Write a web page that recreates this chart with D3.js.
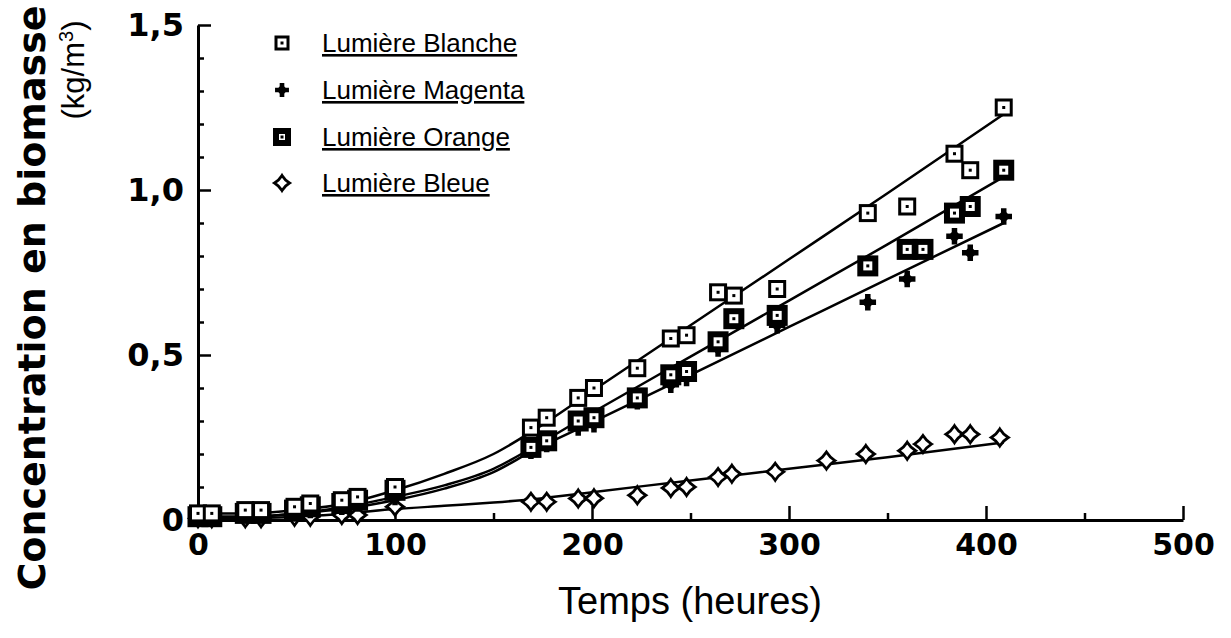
<!DOCTYPE html>
<html>
<head>
<meta charset="utf-8">
<script src="https://cdn.jsdelivr.net/npm/d3@7"></script>
<style>
  body { margin: 0; background: #fff; }
  svg { display: block; }
</style>
</head>
<body>
<div id="chart"></div>
<script>
// --- Données
const seriesNames = ["Lumière Blanche", "Lumière Magenta", "Lumière Orange", "Lumière Bleue"];

const tBlanche = [0, 7, 24, 32, 49, 57, 73, 81, 100, 169, 177, 193, 201, 223, 240, 248, 264, 272, 294, 340, 360, 384, 392, 409];
const cBlanche = [0.02, 0.02, 0.03, 0.03, 0.04, 0.05, 0.06, 0.07, 0.10, 0.28, 0.31, 0.37, 0.40, 0.46, 0.55, 0.56, 0.69, 0.68, 0.70, 0.93, 0.95, 1.11, 1.06, 1.25];

const tMagenta = [0, 7, 24, 32, 49, 57, 73, 81, 100, 169, 177, 193, 201, 223, 240, 248, 264, 294, 340, 360, 384, 392, 409];
const cMagenta = [0.01, 0.01, 0.015, 0.015, 0.02, 0.03, 0.04, 0.05, 0.07, 0.21, 0.23, 0.28, 0.29, 0.36, 0.41, 0.43, 0.52, 0.59, 0.66, 0.73, 0.86, 0.81, 0.92];

const tOrange = [0, 7, 24, 32, 49, 57, 73, 81, 100, 169, 177, 193, 201, 223, 240, 248, 264, 272, 294, 340, 360, 368, 384, 392, 409];
const cOrange = [0.01, 0.01, 0.02, 0.02, 0.03, 0.04, 0.05, 0.06, 0.09, 0.22, 0.24, 0.30, 0.31, 0.37, 0.44, 0.45, 0.54, 0.61, 0.62, 0.77, 0.82, 0.82, 0.93, 0.95, 1.06];

const tBleue = [0, 7, 24, 32, 49, 57, 73, 81, 100, 169, 177, 193, 201, 223, 240, 248, 264, 271, 293, 319, 339, 360, 368, 384, 392, 407];
const cBleue = [0.005, 0.005, 0.005, 0.005, 0.01, 0.01, 0.015, 0.015, 0.04, 0.055, 0.055, 0.065, 0.066, 0.075, 0.097, 0.10, 0.13, 0.14, 0.146, 0.18, 0.20, 0.21, 0.23, 0.26, 0.26, 0.25];

// courbes ajustées
const tFit = [0, 25, 50, 75, 100, 125, 150, 170, 200, 250, 300, 350, 409];
const fitBlanche = [0.02, 0.02, 0.03, 0.05, 0.09, 0.14, 0.20, 0.27, 0.39, 0.59, 0.79, 0.99, 1.23];
const fitOrange  = [0.01, 0.01, 0.02, 0.04, 0.07, 0.105, 0.155, 0.22, 0.325, 0.495, 0.665, 0.835, 1.04];
const fitMagenta = [0.01, 0.01, 0.02, 0.035, 0.06, 0.095, 0.145, 0.21, 0.296, 0.44, 0.585, 0.73, 0.90];
const fitBleue   = [0.005, 0.006, 0.01, 0.02, 0.033, 0.043, 0.053, 0.063, 0.084, 0.12, 0.155, 0.19, 0.235];

const xMajor = [0, 100, 200, 300, 400, 500];
const xMinor = [50, 150, 250, 350, 450];
const yMajor = [0, 0.5, 1.0, 1.5];
const yMinor = [0.1, 0.2, 0.3, 0.4, 0.6, 0.7, 0.8, 0.9, 1.1, 1.2, 1.3, 1.4];
const yLabels = ["0", "0,5", "1,0", "1,5"];

// --- Mise en page
const W = 1231, H = 638;
const svg = d3.select("#chart").append("svg").attr("width", W).attr("height", H);

const x = d3.scaleLinear().domain([0, 500]).range([198, 1183]);
const y = d3.scaleLinear().domain([0, 1.5]).range([520, 25]);

const tickFont = "'DejaVu Sans', sans-serif";

// --- Axe Y
const gy = svg.append("g").attr("transform", `translate(${x(0)},0)`);
gy.call(d3.axisLeft(y).tickValues(yMajor).tickSizeInner(-13).tickSizeOuter(0).tickPadding(14)
    .tickFormat((d, i) => yLabels[i]));
gy.append("g").call(d3.axisLeft(y).tickValues(yMinor).tickSizeInner(-6).tickSizeOuter(0).tickFormat(""))
  .select(".domain").remove();
gy.selectAll("line").attr("stroke", "#000").attr("stroke-width", 2.5);
gy.select(".domain").attr("stroke", "#000").attr("stroke-width", 3);
gy.selectAll("text").attr("font-family", tickFont).attr("font-weight", "bold")
  .attr("font-size", 32).attr("fill", "#000");

// --- Axe X
const gx = svg.append("g").attr("transform", `translate(0,${y(0)})`);
gx.call(d3.axisBottom(x).tickValues(xMajor).tickSizeInner(-14).tickSizeOuter(0).tickPadding(14));
gx.append("g").call(d3.axisBottom(x).tickValues(xMinor).tickSizeInner(-7).tickSizeOuter(0).tickFormat(""))
  .select(".domain").remove();
gx.selectAll("line").attr("stroke", "#000").attr("stroke-width", 2.5);
gx.select(".domain").attr("stroke", "#000").attr("stroke-width", 3);
gx.selectAll("text").attr("font-family", tickFont).attr("font-weight", "bold")
  .attr("font-size", 30).attr("fill", "#000");

// --- Titres des axes
svg.append("text")
  .attr("x", 690).attr("y", 614)
  .attr("text-anchor", "middle")
  .attr("font-family", "'Liberation Sans', sans-serif")
  .attr("font-size", 38)
  .text("Temps (heures)");

svg.append("text")
  .attr("transform", "translate(45,298) rotate(-90)")
  .attr("text-anchor", "middle")
  .attr("font-family", tickFont)
  .attr("font-weight", "bold")
  .attr("font-size", 38)
  .text("Concentration en biomasse");

const unit = svg.append("text")
  .attr("transform", "translate(84,70) rotate(-90)")
  .attr("text-anchor", "middle")
  .attr("font-family", "'Liberation Sans', sans-serif")
  .attr("font-size", 31);
unit.append("tspan").text("(kg/m");
unit.append("tspan").attr("dy", -11).attr("font-size", 20).text("3");
unit.append("tspan").attr("dy", 11).text(")");

// --- Courbes ajustées
const line = d3.line().x(d => x(d[0])).y(d => y(d[1])).curve(d3.curveMonotoneX);
[fitBlanche, fitOrange, fitMagenta, fitBleue].forEach(fit => {
  svg.append("path")
    .datum(tFit.map((t, i) => [t, fit[i]]))
    .attr("d", line)
    .attr("fill", "none")
    .attr("stroke", "#000")
    .attr("stroke-width", 2.5);
});

// --- Symboles
function markBlanche(g, s) {
  g.append("rect").attr("x", -s / 2).attr("y", -s / 2).attr("width", s).attr("height", s)
    .attr("fill", "#fff").attr("stroke", "#000").attr("stroke-width", 3);
  g.append("rect").attr("x", -1.5).attr("y", -1.5).attr("width", 3).attr("height", 3).attr("fill", "#000");
}
function markOrange(g, s) {
  g.append("rect").attr("x", -s / 2).attr("y", -s / 2).attr("width", s).attr("height", s)
    .attr("fill", "#fff").attr("stroke", "#000").attr("stroke-width", 6);
  g.append("rect").attr("x", -1.5).attr("y", -1.5).attr("width", 3).attr("height", 3).attr("fill", "#000");
}
function markMagenta(g, s) {
  const a = s * s * 0.42;
  g.append("path").attr("d", d3.symbol(d3.symbolCross, a)()).attr("fill", "#000");
  g.append("path").attr("d", d3.symbol(d3.symbolSquare, a * 0.6)()).attr("transform", "rotate(45)").attr("fill", "#000");
}
function markBleue(g, s) {
  const h = s / 2, k = 0.38;
  const p = `M0,${-h} Q${h * k},${-h * k} ${h},0 Q${h * k},${h * k} 0,${h} Q${-h * k},${h * k} ${-h},0 Q${-h * k},${-h * k} 0,${-h}Z`;
  g.append("path").attr("d", p).attr("fill", "#fff").attr("stroke", "#000").attr("stroke-width", 2.8);
}

const series = [
  { t: tBleue, c: cBleue, mark: markBleue, size: 17 },
  { t: tMagenta, c: cMagenta, mark: markMagenta, size: 19 },
  { t: tOrange, c: cOrange, mark: markOrange, size: 15 },
  { t: tBlanche, c: cBlanche, mark: markBlanche, size: 15 }
];

series.forEach(s => {
  const pts = s.t.map((t, i) => [t, s.c[i]]);
  svg.append("g").selectAll("g").data(pts).join("g")
    .attr("transform", d => `translate(${x(d[0])},${y(d[1])})`)
    .each(function () { s.mark(d3.select(this), s.size); });
});

// --- Légende
const legendMarks = [markBlanche, markMagenta, markOrange, markBleue];
const legendSizes = [12, 16, 12, 15];
const legendY = [43, 90, 137, 183];
const lg = svg.append("g");
seriesNames.forEach((name, i) => {
  const row = lg.append("g").attr("transform", `translate(0,${legendY[i]})`);
  legendMarks[i](row.append("g").attr("transform", "translate(282,0)"), legendSizes[i]);
  row.append("text")
    .attr("x", 322).attr("y", 9)
    .attr("font-family", "'Liberation Sans', sans-serif")
    .attr("font-size", 26)
    .attr("text-decoration", "underline")
    .text(name);
});
</script>
</body>
</html>
